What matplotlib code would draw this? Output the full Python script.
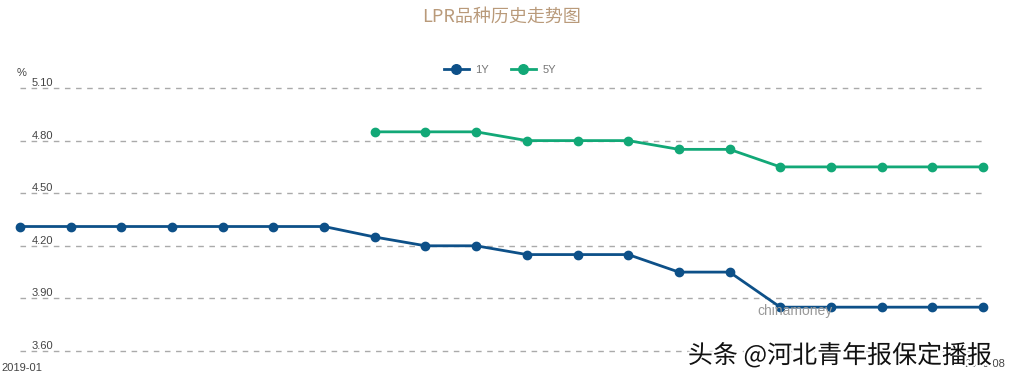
import matplotlib
matplotlib.use("Agg")
import matplotlib.pyplot as plt
import matplotlib.patheffects as pe
import numpy as np

plt.rcParams['font.family'] = ['Noto Sans CJK SC', 'DejaVu Sans']

# monthly LPR quotes, 2019-01 .. 2020-08
months = ['2019-01', '2019-02', '2019-03', '2019-04', '2019-05', '2019-06', '2019-07',
          '2019-08', '2019-09', '2019-10', '2019-11', '2019-12', '2020-01', '2020-02',
          '2020-03', '2020-04', '2020-05', '2020-06', '2020-07', '2020-08']
lpr_1y = [4.31, 4.31, 4.31, 4.31, 4.31, 4.31, 4.31,
          4.25, 4.20, 4.20, 4.15, 4.15, 4.15, 4.05,
          4.05, 3.85, 3.85, 3.85, 3.85, 3.85]
lpr_5y = [None, None, None, None, None, None, None,
          4.85, 4.85, 4.85, 4.80, 4.80, 4.80, 4.75,
          4.75, 4.65, 4.65, 4.65, 4.65, 4.65]
y_ticks = [3.60, 3.90, 4.20, 4.50, 4.80, 5.10]

W, H = 1010, 382
fig = plt.figure(figsize=(W / 100, H / 100), dpi=100)
ax = fig.add_axes([20 / W, (H - 351) / H, (983 - 20) / W, (351 - 88) / H])

x = np.arange(len(months))
y5 = np.array([np.nan if v is None else v for v in lpr_5y])

c1 = '#0d5088'
c5 = '#12a877'
small = 'Liberation Sans'

ax.plot(x, lpr_1y, color=c1, lw=2, marker='o', ms=6, clip_on=False, label='1Y', zorder=3)
ax.plot(x, y5, color=c5, lw=2, marker='o', ms=6, clip_on=False, label='5Y', zorder=3)

ax.set_xlim(0, len(months) - 1)
ax.set_ylim(y_ticks[0], y_ticks[-1])
for v in y_ticks:
    ax.axhline(v, color='#aaaaaa', lw=1, ls=(0, (4, 4)), xmax=1.002, clip_on=False, zorder=1)
    ax.text(0.0125, v, f'{v:.2f}', transform=ax.get_yaxis_transform(),
            fontsize=8, color='#444444', va='bottom', ha='left', family=small)

for s in ax.spines.values():
    s.set_visible(False)
ax.set_xticks([])
ax.set_yticks([])
ax.patch.set_alpha(0)

fig.text(17 / W, 1 - 73 / H, '%', fontsize=8, color='#444444', ha='left', va='center',
         family=small)
fig.text(1 / W, 1 - 368 / H, months[0], fontsize=8, color='#444444', ha='left', va='center',
         family=small)
fig.text(1005 / W, 1 - 364 / H, months[-1], fontsize=8, color='#444444', ha='right', va='center',
         family=small)

fig.text(502 / W, 1 - 17 / H, 'LPR品种历史走势图', fontsize=13, color='#b99a7a',
         ha='center', va='center')

leg = fig.legend(loc='center', bbox_to_anchor=(500 / W, 1 - 70 / H), ncol=2, frameon=False,
                 handlelength=2.2, columnspacing=2.0, handletextpad=0.6, markerscale=1.15,
                 prop={'family': small, 'size': 8})
for t in leg.get_texts():
    t.set_color('#777777')

fig.text(795 / W, 1 - 311 / H, 'chinamoney', fontsize=10, color='#999999',
         ha='center', va='center', family=small)

wm = fig.text(840 / W, 1 - 356 / H, '头条 @河北青年报保定播报', fontsize=18, color='#111111',
              ha='center', va='center', weight='medium')
wm.set_path_effects([pe.withStroke(linewidth=3, foreground='white')])

fig.savefig('out.png', dpi=100)
